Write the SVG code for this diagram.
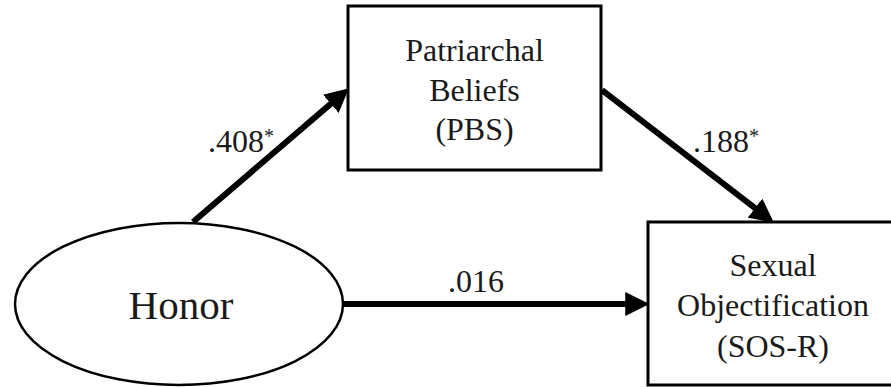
<svg xmlns="http://www.w3.org/2000/svg" width="891" height="387" viewBox="0 0 891 387">
<style>
.box{fill:#fff;stroke:#000;stroke-width:3}
text{font-family:'Liberation Serif','Times New Roman','DejaVu Serif',serif;fill:#1a1a1a}
.node-text{font-size:32px;text-anchor:middle}
.lbl{font-size:32px}
.sup{font-size:20px}
.conn{stroke:#000;stroke-width:6;fill:none;marker-end:url(#ah)}
</style>
<defs>
<marker id="ah" markerUnits="userSpaceOnUse" markerWidth="24" markerHeight="24" viewBox="0 0 22 22" refX="8" refY="11" orient="auto">
<path d="M0,0 L22,11 L0,22 z" fill="#000"/>
</marker>
</defs>
<rect width="891" height="387" fill="#fff"/>
<g id="connectors">
<line class="conn" x1="193" y1="222" x2="337.4" y2="98.1"/>
<line class="conn" x1="602" y1="90" x2="761.9" y2="213.4"/>
<line class="conn" x1="343" y1="304" x2="634" y2="304"/>
<text class="lbl" x="208" y="152" font-family="Liberation Serif, serif">.408<tspan class="sup" dy="-9">*</tspan></text>
<text class="lbl" x="693" y="152" font-family="Liberation Serif, serif">.188<tspan class="sup" dy="-9">*</tspan></text>
<text class="lbl" x="448" y="292" font-family="Liberation Serif, serif">.016</text>
</g>
<g id="honor">
<ellipse cx="179" cy="304" rx="164" ry="81" fill="#fff" stroke="#000" stroke-width="2.5"/>
<text class="node-text" x="181" y="319" style="font-size:41px">Honor</text>
</g>
<g id="pbs">
<rect class="box" x="348" y="6" width="253" height="164"/>
<text class="node-text" x="474.5" y="61">Patriarchal</text>
<text class="node-text" x="474.5" y="101">Beliefs</text>
<text class="node-text" x="474.5" y="140">(PBS)</text>
</g>
<g id="sosr">
<rect class="box" x="648" y="222" width="252" height="163"/>
<text class="node-text" x="773" y="276">Sexual</text>
<text class="node-text" x="773" y="316">Objectification</text>
<text class="node-text" x="773" y="357">(SOS-R)</text>
</g>
</svg>
